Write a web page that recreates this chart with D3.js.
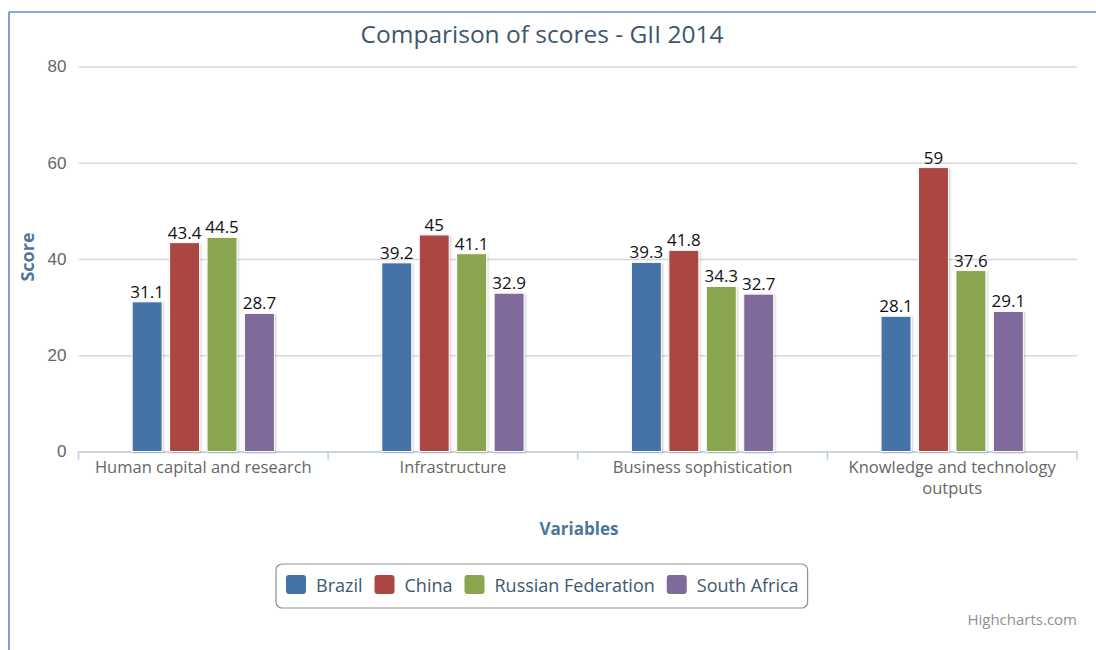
<!DOCTYPE html>
<html>
<head>
<meta charset="utf-8">
<script src="https://cdn.jsdelivr.net/npm/d3@7/dist/d3.min.js"></script>
<style>
  html, body { margin: 0; padding: 0; background: #fff; }
  svg { display: block; font-family: "Open Sans", "Noto Sans", sans-serif; }
</style>
</head>
<body>
<svg id="chart" width="1096" height="650"></svg>
<script>
const categories = ["Human capital and research", "Infrastructure", "Business sophistication", "Knowledge and technology outputs"];
const seriesNames = ["Brazil", "China", "Russian Federation", "South Africa"];
const brazil = [31.1, 39.2, 39.3, 28.1];
const china = [43.4, 45, 41.8, 59];
const russia = [44.5, 41.1, 34.3, 37.6];
const southAfrica = [28.7, 32.9, 32.7, 29.1];
const yTicks = [0, 20, 40, 60, 80];
const colors = ["#4572A7", "#AA4643", "#89A54E", "#80699B"];

const series = [brazil, china, russia, southAfrica].map((vals, i) => ({ name: seriesNames[i], values: vals, color: colors[i] }));

const svg = d3.select("#chart");
const plot = { left: 78.5, right: 1077, top: 66.5, bottom: 451.5 };

// frame lines (blue, top and left)
svg.append("line").attr("x1", 9).attr("x2", 1096).attr("y1", 12).attr("y2", 12)
  .attr("stroke", "#5B8BCB").attr("stroke-width", 1.6);
svg.append("line").attr("x1", 9).attr("x2", 9).attr("y1", 12).attr("y2", 650)
  .attr("stroke", "#5B8BCB").attr("stroke-width", 1.6);

const defs = svg.append("defs");
const f = defs.append("filter").attr("id", "shadow").attr("x", "-20%").attr("y", "-20%").attr("width", "140%").attr("height", "140%");
f.append("feDropShadow").attr("dx", 1).attr("dy", 1).attr("stdDeviation", 1.2).attr("flood-color", "#000").attr("flood-opacity", 0.22);

const x0 = d3.scaleBand().domain(categories).range([plot.left, plot.right]).paddingInner(0).paddingOuter(0);
const x1 = d3.scaleBand().domain(seriesNames).range([x0.bandwidth() * 0.2, x0.bandwidth() * 0.8]).paddingInner(0.2).paddingOuter(0.1);
const y = d3.scaleLinear().domain([0, 80]).range([plot.bottom, plot.top]);

// gridlines
const yAxis = d3.axisLeft(y).tickValues(yTicks).tickSize(-(plot.right - plot.left)).tickPadding(12);
const gy = svg.append("g").attr("transform", `translate(${plot.left},0)`).call(yAxis);
gy.select(".domain").remove();
gy.selectAll(".tick line").attr("stroke", "#D8D8D8").attr("stroke-width", 1.6);
gy.selectAll(".tick text").attr("fill", "#666").style("font-size", "17px").attr("dy", "0.32em");

// x axis
const xAxis = d3.axisBottom(x0).tickSize(0).tickPadding(0);
const gx = svg.append("g").attr("transform", `translate(0,${plot.bottom})`).call(xAxis);
gx.select(".domain").attr("stroke", "#C0D0E0").attr("stroke-width", 1.6);
gx.selectAll(".tick text").remove();
// boundary ticks
const bounds = categories.map(c => x0(c)).concat([plot.right]);
gx.selectAll(".bt").data(bounds).enter().append("line").attr("class", "bt")
  .attr("x1", d => d).attr("x2", d => d).attr("y1", 0).attr("y2", 8)
  .attr("stroke", "#C0D0E0").attr("stroke-width", 1.6);

// category labels (wrap)
const labelWidth = x0.bandwidth() - 20;
categories.forEach(c => {
  const cx = x0(c) + x0.bandwidth() / 2;
  const t = svg.append("text").attr("x", cx).attr("y", 473)
    .attr("text-anchor", "middle").attr("fill", "#666").style("font-size", "16.5px");
  const words = c.split(" ");
  let line = [];
  let tspan = t.append("tspan").attr("x", cx).attr("dy", 0);
  words.forEach(w => {
    line.push(w);
    tspan.text(line.join(" "));
    if (tspan.node().getComputedTextLength() > labelWidth && line.length > 1) {
      line.pop();
      tspan.text(line.join(" "));
      line = [w];
      tspan = t.append("tspan").attr("x", cx).attr("dy", 21).text(w);
    }
  });
});

// bars
const groups = svg.append("g").selectAll("g").data(categories).enter().append("g")
  .attr("transform", c => `translate(${x0(c)},0)`);
groups.each(function(c, ci) {
  const g = d3.select(this);
  series.forEach(s => {
    const v = s.values[ci];
    g.append("rect")
      .attr("x", x1(s.name)).attr("width", x1.bandwidth())
      .attr("y", y(v)).attr("height", y(0) - y(v))
      .attr("fill", s.color).attr("stroke", "#fff").attr("stroke-width", 1)
      .attr("filter", "url(#shadow)");
    g.append("text")
      .attr("x", x1(s.name) + x1.bandwidth() / 2).attr("y", y(v) - 4)
      .attr("text-anchor", "middle").attr("fill", "#111").style("font-size", "17px")
      .text(v);
  });
});

// title
svg.append("text").attr("x", 542).attr("y", 43).attr("text-anchor", "middle")
  .attr("fill", "#3E576F").style("font-size", "24.5px").text("Comparison of scores - GII 2014");

// axis titles
svg.append("text").attr("transform", "translate(34,257) rotate(-90)").attr("text-anchor", "middle")
  .attr("fill", "#4D759E").style("font-size", "18px").style("font-weight", "bold").text("Score");
svg.append("text").attr("x", 579).attr("y", 535).attr("text-anchor", "middle")
  .attr("fill", "#4D759E").style("font-size", "17px").style("font-weight", "bold").text("Variables");

// legend
const legend = svg.append("g");
const box = legend.append("rect").attr("rx", 6).attr("ry", 6)
  .attr("fill", "#fff").attr("stroke", "#909090").attr("stroke-width", 1.2);
let lx = 286;
series.forEach(s => {
  legend.append("rect").attr("x", lx).attr("y", 575).attr("width", 20).attr("height", 19)
    .attr("rx", 3).attr("fill", s.color);
  const tx = legend.append("text").attr("x", lx + 30).attr("y", 592).attr("fill", "#3E576F")
    .style("font-size", "18px").text(s.name);
  const w = tx.node().getComputedTextLength();
  lx = lx + 30 + w + 12;
});
box.attr("x", 276).attr("y", 564).attr("width", lx - 12 + 9 - 276).attr("height", 44);

// credits
svg.append("text").attr("x", 1077).attr("y", 625).attr("text-anchor", "end")
  .attr("fill", "#909090").style("font-size", "15px").text("Highcharts.com");
</script>
</body>
</html>
